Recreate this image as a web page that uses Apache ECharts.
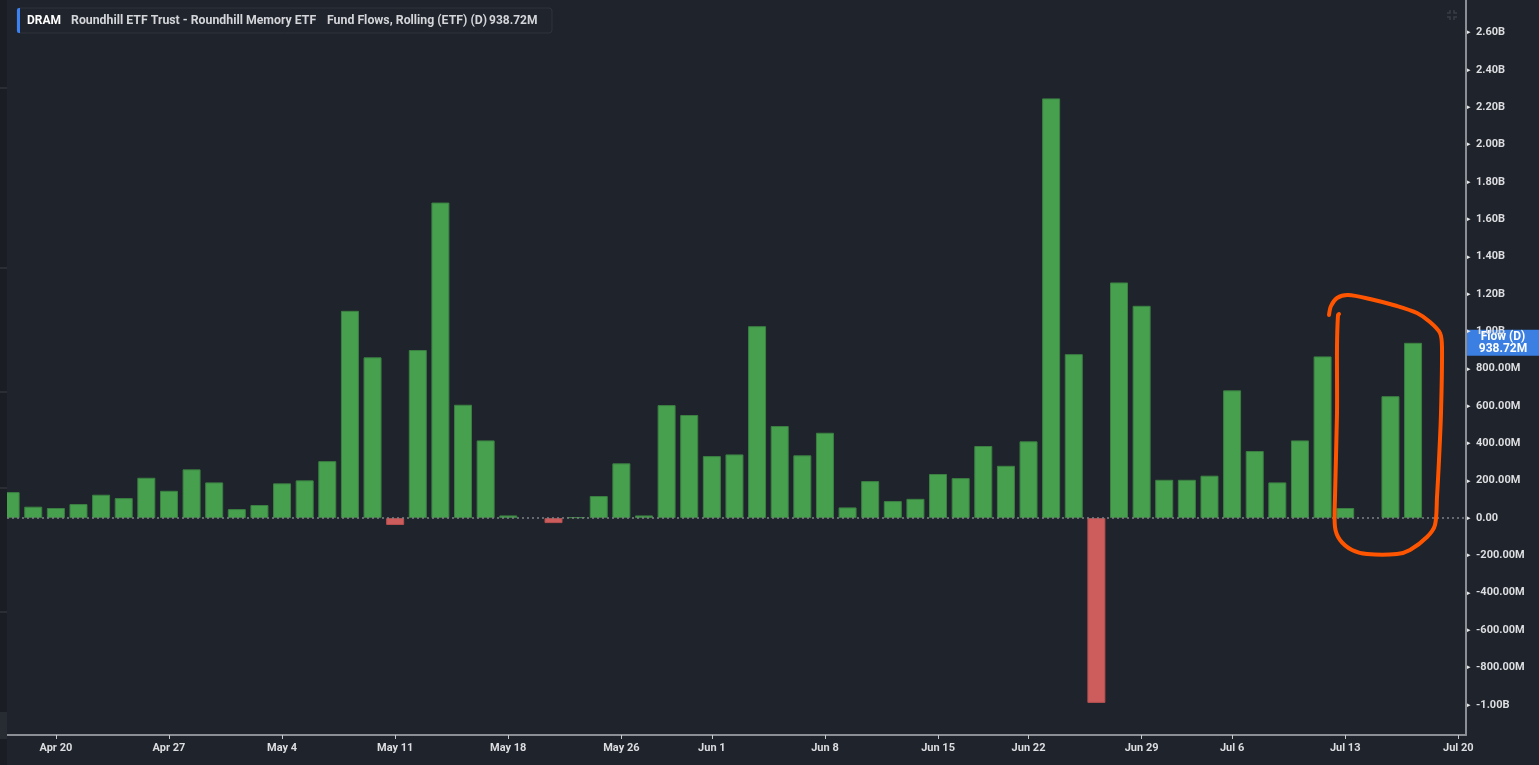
<!DOCTYPE html>
<html>
<head>
<meta charset="utf-8">
<title>DRAM Fund Flows</title>
<script src="https://cdn.jsdelivr.net/npm/echarts@6/dist/echarts.min.js"></script>
<style>
  html, body { margin: 0; padding: 0; background: #1f232b; }
  #myChart { width: 1539px; height: 765px; }
</style>
</head>
<body>
<div id="myChart"></div>
<script>
// trading days shown on the axis
const dates = [
  'Apr 16', 'Apr 17',
  'Apr 20', 'Apr 21', 'Apr 22', 'Apr 23', 'Apr 24',
  'Apr 27', 'Apr 28', 'Apr 29', 'Apr 30', 'May 1',
  'May 4', 'May 5', 'May 6', 'May 7', 'May 8',
  'May 11', 'May 12', 'May 13', 'May 14', 'May 15',
  'May 18', 'May 19', 'May 20', 'May 21', 'May 22',
  'May 26', 'May 27', 'May 28', 'May 29',
  'Jun 1', 'Jun 2', 'Jun 3', 'Jun 4', 'Jun 5',
  'Jun 8', 'Jun 9', 'Jun 10', 'Jun 11', 'Jun 12',
  'Jun 15', 'Jun 16', 'Jun 17', 'Jun 18',
  'Jun 22', 'Jun 23', 'Jun 24', 'Jun 25', 'Jun 26',
  'Jun 29', 'Jun 30', 'Jul 1', 'Jul 2',
  'Jul 6', 'Jul 7', 'Jul 8', 'Jul 9', 'Jul 10',
  'Jul 13', 'Jul 14', 'Jul 15', 'Jul 16', 'Jul 17',
  'Jul 20'
];

// daily fund flows, millions USD (null = no print)
const flows = [
  139, 61,
  54, 75, 125, 107, 216,
  146, 261, 191, 48, 70,
  186, 202, 305, 1110, 861,
  -37, 900, 1690, 607, 416,
  14, null, -27, 5, 118,
  293, 14, 605, 552,
  332, 341, 1028, 493, 336,
  457, 57, 198, 91, 103,
  236, 214, 386, 280,
  411, 2248, 878, -990, 1262,
  1137, 205, 205, 227,
  684, 359, 191, 416, 866,
  54, null, 653, 938.72, null,
  null
];

const xTickLabels = ['Apr 20', 'Apr 27', 'May 4', 'May 11', 'May 18', 'May 26', 'Jun 1',
  'Jun 8', 'Jun 15', 'Jun 22', 'Jun 29', 'Jul 6', 'Jul 13', 'Jul 20'];

// right axis ticks, millions
const yTicks = [-1000, -800, -600, -400, -200, 0, 200, 400, 600, 800, 1000,
  1200, 1400, 1600, 1800, 2000, 2200, 2400, 2600];

const xTickIdx = xTickLabels.map(d => dates.indexOf(d));
const barData = flows.map((v, i) => ({
  value: [i, v],
  itemStyle: v !== null && v < 0
    ? { color: '#cd5c5c', borderColor: '#b65050' }
    : { color: '#46a04e', borderColor: '#3b8042' }
}));
let lastVal = null;
flows.forEach(v => { if (v !== null) lastVal = v; });

function fmt(v) {
  if (v === 0) return '0.00';
  if (Math.abs(v) >= 1000) return (v / 1000).toFixed(2) + 'B';
  return v.toFixed(2) + 'M';
}

const labelFont = { color: '#dcdde0', fontSize: 11, fontWeight: 'bold', fontFamily: 'Roboto' };

let myChart = echarts.init(document.getElementById('myChart'));
myChart.setOption({
  backgroundColor: '#1f232b',
  animation: false,
  grid: { left: 7, right: 73, top: 0, bottom: 30 },
  xAxis: {
    type: 'value',
    min: -0.16,
    max: 64.34,
    splitLine: { show: false },
    axisLine: { show: true, onZero: false, lineStyle: { color: '#8b8e94', width: 2 } },
    axisTick: { show: true, customValues: xTickIdx, length: 4, lineStyle: { color: '#c9cace' } },
    axisLabel: Object.assign({
      customValues: xTickIdx,
      margin: 8,
      formatter: v => dates[Math.round(v)] || ''
    }, labelFont)
  },
  yAxis: {
    type: 'value',
    position: 'right',
    min: -1162,
    max: 2775,
    splitLine: { show: false },
    axisLine: { show: true, onZero: false, lineStyle: { color: '#8b8e94', width: 2 } },
    axisTick: { show: false },
    axisLabel: {
      customValues: yTicks,
      margin: 1,
      formatter: v => '{t|▸}{v|' + fmt(v) + '}',
      rich: {
        t: { fontSize: 7, color: '#e6e6e6', width: 9, fontFamily: 'DejaVu Sans' },
        v: labelFont
      }
    }
  },
  series: [{
    type: 'bar',
    barWidth: 18,
    clip: true,
    data: barData,
    itemStyle: { borderWidth: 1 },
    markLine: {
      silent: true,
      symbol: 'none',
      label: { show: false },
      lineStyle: { color: '#7d8188', type: [2, 3], width: 1.5 },
      data: [{ yAxis: 0 }]
    }
  }]
});

// overlays: legend box, last value tag, left strip, scribble
const W = myChart.getWidth();
const axisX = W - 73;
const tagY = myChart.convertToPixel({ yAxisIndex: 0 }, lastVal);
const txt = { fill: '#d3d5d9', fontSize: 12, fontWeight: 'bold', fontFamily: 'Roboto', textVerticalAlign: 'middle' };

const scribble = [
  [1329, 315], [1331, 306], [1337, 298], [1348, 295], [1370, 299], [1397, 306], [1417, 313],
  [1430, 322], [1440, 333], [1442, 347], [1441, 413], [1439, 460], [1437, 497], [1435, 525],
  [1427, 537], [1410, 550], [1397, 554], [1367, 554], [1352, 550], [1340, 540], [1335, 527],
  [1335, 497], [1337, 413], [1337, 347], [1338, 315], [1339, 314]
];

myChart.setOption({
  graphic: [
    { type: 'rect', z: 50, shape: { x: 0, y: 0, width: 7, height: 765 }, style: { fill: '#1a1d23' } },
    ...[88, 268, 392, 488, 612].map(y => ({
      type: 'line', z: 51, shape: { x1: 0, y1: y, x2: 7, y2: y }, style: { stroke: '#3a3e46', lineWidth: 1 }
    })),
    { type: 'rect', z: 51, shape: { x: 0, y: 712, width: 7, height: 27 }, style: { fill: '#272b32' } },
    { type: 'rect', shape: { x: 17, y: 8, width: 535, height: 25, r: 3 }, style: { fill: '#20242c', stroke: '#2f333b', lineWidth: 1 } },
    { type: 'rect', shape: { x: 17, y: 8, width: 3, height: 25, r: [2, 0, 0, 2] }, style: { fill: '#3b82f6' } },
    { type: 'text', x: 27, y: 21, style: Object.assign({}, txt, { text: 'DRAM', fill: '#ffffff' }) },
    { type: 'text', x: 71, y: 21, style: Object.assign({}, txt, { text: 'Roundhill ETF Trust - Roundhill Memory ETF', fontSize: 12.3 }) },
    { type: 'text', x: 327, y: 21, style: Object.assign({}, txt, { text: 'Fund Flows, Rolling (ETF) (D)', fontSize: 12.3 }) },
    { type: 'text', x: 489, y: 21, style: Object.assign({}, txt, { text: fmt(lastVal) }) },
    // expand icon
    ...[[1447, 10, 1, 1], [1457, 10, -1, 1], [1447, 20, 1, -1], [1457, 20, -1, -1]].map(c => ({
      type: 'polyline',
      shape: { points: [[c[0] + 3 * c[2], c[1]], [c[0] + 3 * c[2], c[1] + 3 * c[3]], [c[0], c[1] + 3 * c[3]]] },
      style: { stroke: '#3a3e47', lineWidth: 1.5, fill: null }
    })),
    {
      type: 'group', x: axisX + 1, y: tagY - 13, z: 100,
      children: [
        { type: 'rect', shape: { x: 0, y: 0, width: 72, height: 26 }, style: { fill: '#3b7fe3' } },
        { type: 'text', x: 36, y: 7, style: { text: 'Flow (D)', fill: '#fff', fontSize: 12, fontWeight: 'bold', fontFamily: 'Roboto', textAlign: 'center', textVerticalAlign: 'middle' } },
        { type: 'text', x: 36, y: 19, style: { text: fmt(lastVal), fill: '#fff', fontSize: 12, fontWeight: 'bold', fontFamily: 'Roboto', textAlign: 'center', textVerticalAlign: 'middle' } }
      ]
    },
    {
      type: 'polyline', z: 120,
      shape: { points: scribble, smooth: 0.3 },
      style: { stroke: '#ff5500', lineWidth: 4, fill: null, lineCap: 'round', lineJoin: 'round' }
    }
  ]
});
</script>
</body>
</html>
